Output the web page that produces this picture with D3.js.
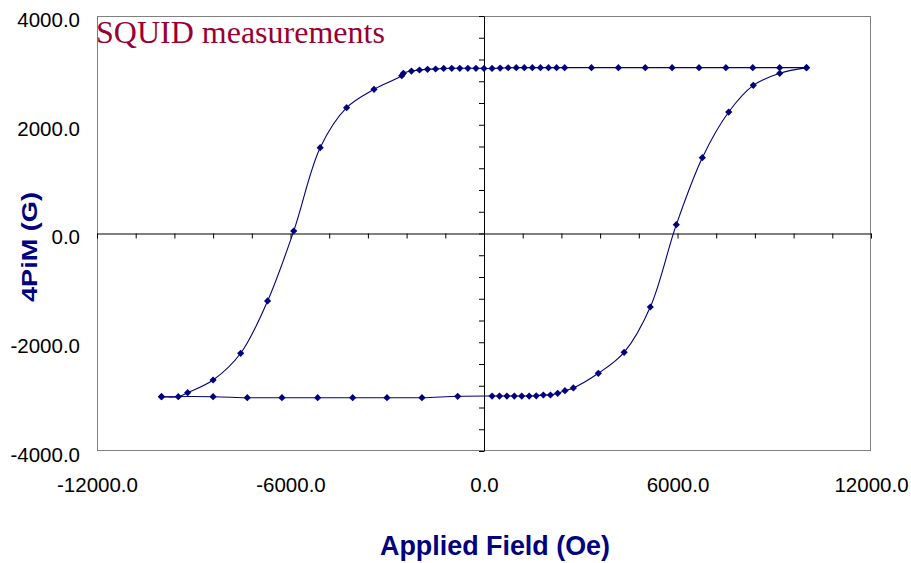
<!DOCTYPE html>
<html>
<head>
<meta charset="utf-8">
<script src="https://cdn.jsdelivr.net/npm/d3@7"></script>
<style>
  body { margin: 0; background: #fff; }
  svg { display: block; }
</style>
</head>
<body>
<svg id="chart" width="911" height="563"></svg>
<script>
    // descending branch: +10000 Oe down to -10000 Oe
    var fieldDown = [10000, 9167, 8333, 7500, 6667, 5833, 5000, 4167, 3333, 2500,
        2250, 2000, 1750, 1500, 1250, 1000, 750, 500, 250, 0,
        -250, -500, -750, -1000, -1250, -1500, -1750, -2000, -2250, -2500,
        -2550, -3410, -4260, -5080, -5900, -6710, -7545, -8400, -9190, -9480, -10000];
    var momentDown = [3050, 3050, 3050, 3050, 3050, 3050, 3050, 3050, 3050, 3050,
        3050, 3050, 3050, 3050, 3050, 3050, 3048, 3042, 3036, 3036,
        3038, 3038, 3038, 3038, 3035, 3025, 3019, 3007, 2988, 2946,
        2902, 2652, 2314, 1578, 46, -1241, -2203, -2694, -2928, -3001, -3001];

    // ascending branch: -10000 Oe back up to +10000 Oe
    var fieldUp = [-10000, -8400, -7340, -6265, -5158, -4073, -3009, -1923, -816,
        250, 480, 710, 940, 1170, 1400, 1620, 1840, 2060, 2285, 2510, 2770,
        3545, 4345, 5157, 5963, 6770, 7587, 8350, 9170, 10000];
    var momentUp = [-3001, -3001, -3020, -3020, -3020, -3020, -3020, -3020, -2994,
        -2989, -2989, -2989, -2989, -2989, -2989, -2985, -2970, -2970, -2939, -2891, -2841,
        -2571, -2185, -1352, 162, 1394, 2234, 2725, 2946, 3050];

    var xLabels = [-12000, -6000, 0, 6000, 12000];
    var yLabels = [-4000, -2000, 0, 2000, 4000];

    var svg = d3.select("#chart");
    var plotLeft = 97, plotRight = 871, plotTop = 16, plotBottom = 451;

    var x = d3.scaleLinear().domain([-12000, 12000]).range([plotLeft, plotRight]);
    var y = d3.scaleLinear().domain([-4000, 4000]).range([plotBottom, plotTop]);

    // plain hyphen for negatives, like the original
    var fmt = d3.formatLocale({decimal: ".", thousands: "", grouping: [3], currency: ["", ""], minus: "-"}).format(".1f");
    var navy = "#000080";

    // plot frame
    svg.append("rect")
        .attr("x", plotLeft + 0.5).attr("y", plotTop + 0.5)
        .attr("width", plotRight - plotLeft - 1).attr("height", plotBottom - plotTop - 1)
        .attr("fill", "none").attr("stroke", "#808080");

    // crossing axes with small ticks
    var xMinor = d3.range(-12000, 12001, 1200);
    var yMinor = d3.range(-4000, 4001, 400);

    svg.append("g")
        .attr("transform", "translate(0," + y(0) + ")")
        .call(d3.axisBottom(x).tickValues(xMinor).tickFormat("").tickSize(5).tickSizeOuter(0))
        .call(g => g.selectAll("path, line").attr("stroke", "#000"));

    svg.append("g")
        .attr("transform", "translate(" + x(0) + ",0)")
        .call(d3.axisLeft(y).tickValues(yMinor).tickFormat("").tickSize(5).tickSizeOuter(0))
        .call(g => g.selectAll("path, line").attr("stroke", "#000"));

    // tick labels on the frame
    svg.append("g")
        .attr("transform", "translate(0," + plotBottom + ")")
        .call(d3.axisBottom(x).tickValues(xLabels).tickFormat(fmt).tickSize(0).tickPadding(26))
        .call(g => g.select(".domain").remove())
        .call(g => g.selectAll("text")
            .attr("font-family", "Arial, 'Liberation Sans', sans-serif")
            .attr("font-size", "20.5px").attr("fill", "#000"));

    svg.append("g")
        .attr("transform", "translate(" + plotLeft + ",0)")
        .call(d3.axisLeft(y).tickValues(yLabels).tickFormat(fmt).tickSize(0).tickPadding(17))
        .call(g => g.select(".domain").remove())
        .call(g => g.selectAll("text")
            .attr("font-family", "Arial, 'Liberation Sans', sans-serif")
            .attr("font-size", "20.5px").attr("dy", "0.5em").attr("fill", "#000"));

    // hysteresis loop
    var line = d3.line()
        .x(d => x(d[0]))
        .y(d => y(d[1]))
        .curve(d3.curveCatmullRom.alpha(0.5));

    var down = fieldDown.map((f, i) => [f, momentDown[i]]);
    var up = fieldUp.map((f, i) => [f, momentUp[i]]);

    [down, up].forEach(pts => {
        svg.append("path")
            .datum(pts)
            .attr("d", line)
            .attr("fill", "none")
            .attr("stroke", navy)
            .attr("stroke-width", 1.1);
    });

    var marker = d3.symbol(d3.symbolSquare, 26);
    svg.append("g").selectAll("path")
        .data(down.concat(up))
        .enter()
        .append("path")
        .attr("d", marker)
        .attr("transform", d => "translate(" + x(d[0]) + "," + y(d[1]) + ") rotate(45)")
        .attr("fill", navy);

    // titles
    svg.append("text")
        .attr("x", 96).attr("y", 43)
        .attr("font-family", "'Times New Roman', 'Liberation Serif', serif")
        .attr("font-size", "32px")
        .attr("fill", "#990033")
        .text("SQUID measurements");

    svg.append("text")
        .attr("x", 495).attr("y", 555)
        .attr("text-anchor", "middle")
        .attr("font-family", "Arial, 'Liberation Sans', sans-serif")
        .attr("font-size", "27px").attr("font-weight", "bold")
        .attr("fill", navy)
        .attr("textLength", 230).attr("lengthAdjust", "spacingAndGlyphs")
        .text("Applied Field (Oe)");

    svg.append("text")
        .attr("transform", "translate(37,247) rotate(-90)")
        .attr("text-anchor", "middle")
        .attr("font-family", "Arial, 'Liberation Sans', sans-serif")
        .attr("font-size", "22px").attr("font-weight", "bold")
        .attr("fill", navy)
        .attr("textLength", 110).attr("lengthAdjust", "spacingAndGlyphs")
        .text("4PiM (G)");
</script>
</body>
</html>
